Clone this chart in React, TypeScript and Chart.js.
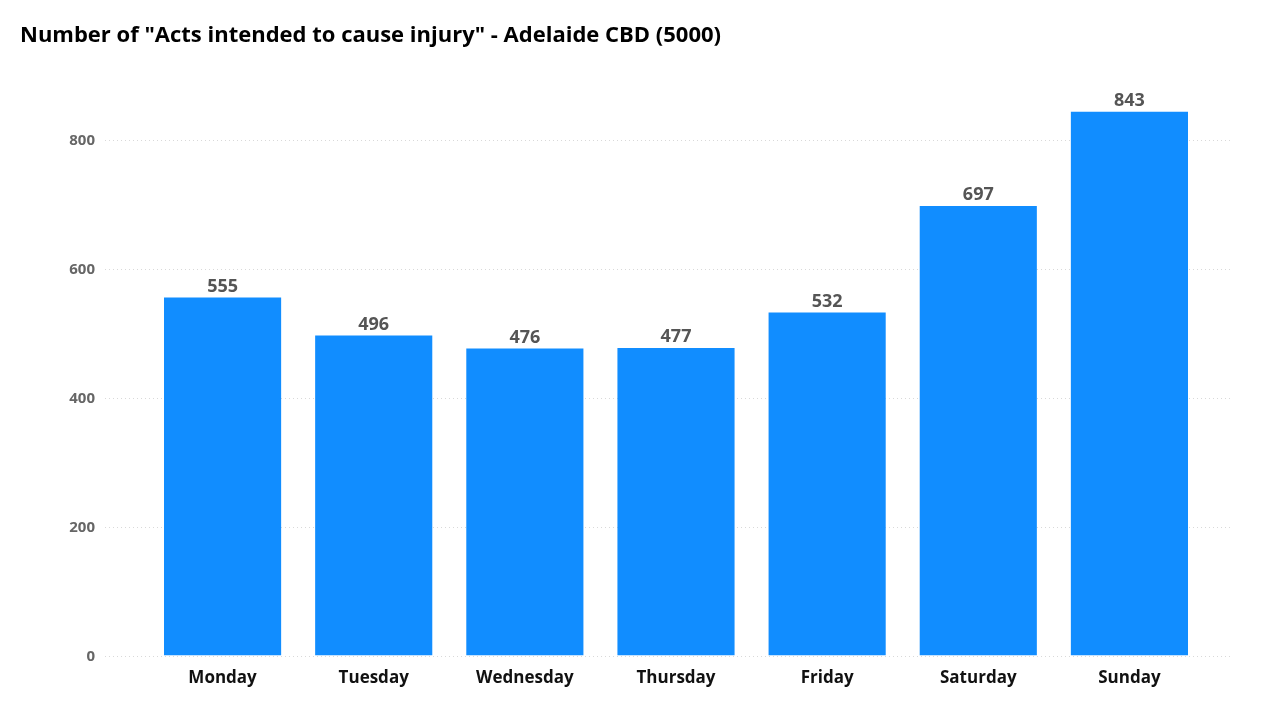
import React, { useRef, useEffect } from 'react';
import { Chart, registerables, type Plugin } from 'chart.js';

Chart.register(...registerables);

const days = ['Monday', 'Tuesday', 'Wednesday', 'Thursday', 'Friday', 'Saturday', 'Sunday'];
const counts = [555, 496, 476, 477, 532, 697, 843];
const yTicks = [0, 200, 400, 600, 800];

const FONT = '"Open Sans", "Noto Sans", sans-serif';

// dotted gridlines + y labels + value labels drawn by hand
const decor: Plugin<'bar'> = {
  id: 'decor',
  beforeDatasetsDraw(chart) {
    const { ctx } = chart;
    const y = chart.scales.y;
    ctx.save();
    ctx.strokeStyle = '#d9d9d9';
    ctx.lineWidth = 1;
    ctx.setLineDash([1, 3]);
    ctx.font = `bold 15px ${FONT}`;
    ctx.fillStyle = '#666';
    ctx.textAlign = 'right';
    ctx.textBaseline = 'middle';
    yTicks.forEach((t) => {
      const py = Math.round(y.getPixelForValue(t)) + 0.5;
      ctx.beginPath();
      ctx.moveTo(105, py);
      ctx.lineTo(1230, py);
      ctx.stroke();
      ctx.fillText(String(t), 95, py);
    });
    ctx.restore();
  },
  afterDatasetsDraw(chart) {
    const { ctx } = chart;
    const meta = chart.getDatasetMeta(0);
    ctx.save();
    ctx.font = `bold 18px ${FONT}`;
    ctx.fillStyle = '#555';
    ctx.textAlign = 'center';
    ctx.textBaseline = 'bottom';
    meta.data.forEach((el, i) => {
      ctx.fillText(String(counts[i]), el.x, el.y - 2);
    });
    ctx.restore();
  },
};

const BarChart: React.FC = () => {
  const canvasRef = useRef<HTMLCanvasElement>(null);
  const chartRef = useRef<Chart | null>(null);

  useEffect(() => {
    if (!canvasRef.current) return;
    chartRef.current?.destroy();
    chartRef.current = new Chart(canvasRef.current, {
      type: 'bar',
      data: {
        labels: days,
        datasets: [{
          data: counts,
          backgroundColor: '#118DFF',
          barPercentage: 0.775,
          categoryPercentage: 1,
        }],
      },
      options: {
        animation: false,
        responsive: true,
        maintainAspectRatio: false,
        layout: { padding: { left: 147, right: 75, top: 75, bottom: 28 } },
        plugins: { legend: { display: false }, tooltip: { enabled: false } },
        scales: {
          x: {
            grid: { display: false },
            border: { display: false },
            ticks: { color: '#111', font: { family: FONT, size: 17, weight: 'bold' }, padding: 4 },
          },
          y: {
            display: false,
            min: 0,
            max: 900,
          },
        },
      },
      plugins: [decor],
    });
    return () => {
      chartRef.current?.destroy();
      chartRef.current = null;
    };
  }, []);

  return <canvas ref={canvasRef} />;
};

export default function App() {
  return (
    <div style={{ position: 'absolute', left: 0, top: 0, width: 1280, height: 720, background: '#fff' }}>
      <div style={{
        position: 'absolute', left: 20, top: 18, fontFamily: FONT, fontWeight: 'bold',
        fontSize: 22, color: '#000', zIndex: 1,
      }}>
        Number of "Acts intended to cause injury" - Adelaide CBD (5000)
      </div>
      <div style={{ position: 'absolute', inset: 0 }}>
        <BarChart />
      </div>
    </div>
  );
}
